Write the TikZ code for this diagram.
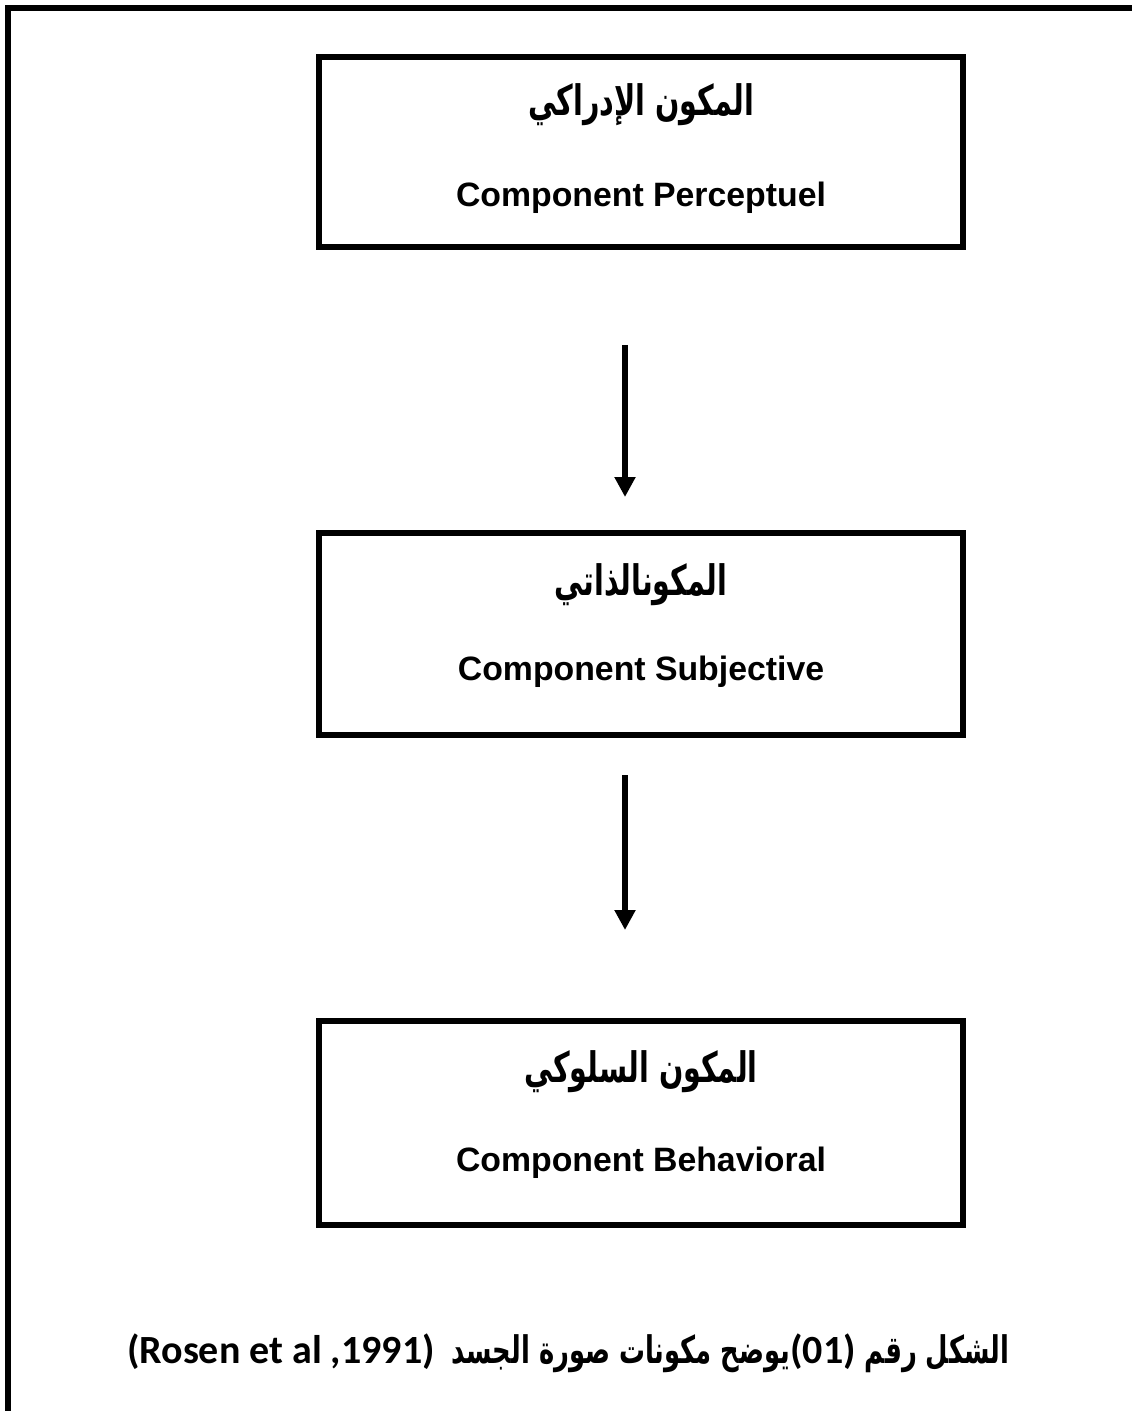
\documentclass[tikz,border=0pt]{standalone}
\usepackage{fontspec}
\setmainfont{Liberation Sans}
\newfontfamily\arabicfont[Script=Arabic,FakeStretch=0.68]{DejaVu Sans}
\newfontfamily\captionfont{Carlito}
\newcommand{\rtltext}[1]{{\TeXXeTstate=1\beginR #1\endR}}
\usetikzlibrary{arrows.meta}
\usetikzlibrary{positioning}

\begin{document}
\begin{tikzpicture}[x=0.5pt,y=-0.5pt]
% 1 unit = 1 px of the reference
    \def\XMID{641}
    \def\BOXW{322pt} %width of boxes
    \def\ARROWX{625}

    \tikzset{
      compbox/.style={draw, line width=3pt, minimum width=\BOXW, inner sep=0pt},
      artext/.style={font=\arabicfont\bfseries\fontsize{21}{25}\selectfont, inner sep=0pt},
      entext/.style={font=\bfseries\fontsize{16.9}{20}\selectfont, inner sep=0pt},
      captext/.style={inner sep=0pt},
      flow/.style={-{Triangle[width=10pt,length=10pt]}, line width=3pt},
    }

    \useasboundingbox (0,0) rectangle (1132,1411);

    % frame, cut at right and bottom
    \draw[line width=3pt] (8,1411) -- (8,8) -- (1132,8);

    % FIRST box
    \node[compbox, minimum height=95pt] (perc) at (\XMID,152) {};
    \node[artext] (percar) at (\XMID,105) {\rtltext{المكون الإدراكي}};
    \node[entext] (percen) at (\XMID,198) {Component Perceptuel};

    % SECOND box
    \node[compbox, minimum height=101pt] (subj) at (\XMID,634) {};
    \node[artext] (subjar) at (\XMID,585) {\rtltext{المكونالذاتي}};
    \node[entext] (subjen) at (\XMID,672) {Component Subjective};

    % THIRD box
    \node[compbox, minimum height=102pt] (behav) at (\XMID,1123) {};
    \node[artext] (behavar) at (\XMID,1072) {\rtltext{المكون السلوكي}};
    \node[entext] (behaven) at (\XMID,1163) {Component Behavioral};

    % arrows between the boxes
    \coordinate (a1s) at (\ARROWX,345);
    \coordinate (a1e) at (\ARROWX,497);
    \draw[flow] (a1s) -- (a1e);
    \coordinate (a2s) at (\ARROWX,775);
    \coordinate (a2e) at (\ARROWX,930);
    \draw[flow] (a2s) -- (a2e);

    % caption, latin part on the left, arabic part right of it
    \node[captext, font=\captionfont\bfseries\fontsize{20}{24}\selectfont]
        (capen) at (281,1352) {(Rosen et al ,1991)};
    \node[captext, base right=8pt of capen,
          font=\arabicfont\bfseries\fontsize{19}{24}\selectfont] (capar)
        {\rtltext{الشكل رقم \beginL{\captionfont\fontsize{20}{24}\selectfont(01)}\endL{}يوضح مكونات صورة الجسد}};

\end{tikzpicture}
\end{document}
